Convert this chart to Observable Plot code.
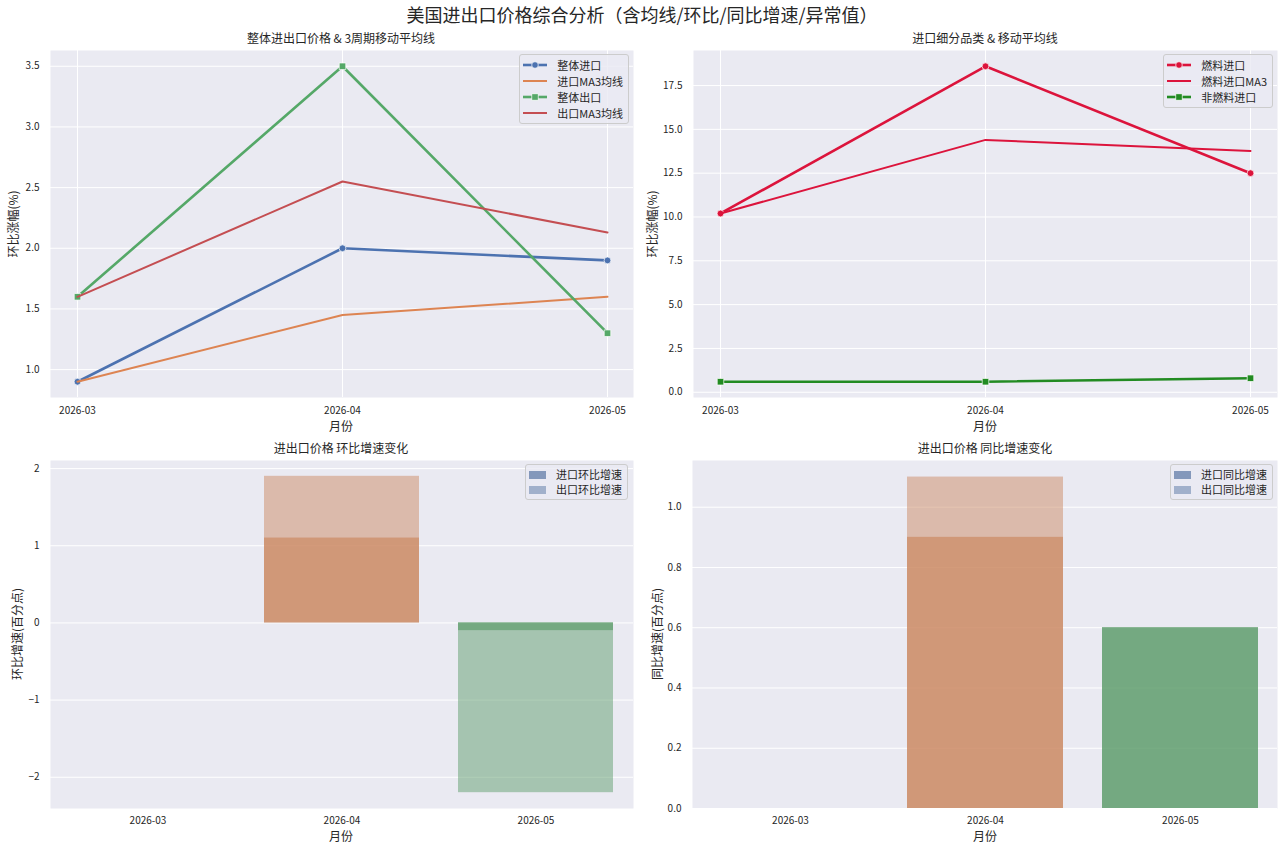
<!DOCTYPE html>
<html>
<head>
<meta charset="utf-8">
<script src="https://cdn.jsdelivr.net/npm/d3@7"></script>
<script src="https://cdn.jsdelivr.net/npm/@observablehq/plot@0.6"></script>
<style>
  body { margin: 0; background: #fff; }
  #root { position: relative; width: 1284px; height: 848px; overflow: hidden;
          font-family: "Noto Sans CJK SC", "Noto Sans", sans-serif; color: #262626; }
  #root svg.chart { position: absolute; }
  .txt { position: absolute; transform: translate(-50%, -50%); white-space: nowrap; font-size: 12px; line-height: 1; }
  .ylab { position: absolute; transform: translate(-50%, -50%) rotate(-90deg); white-space: nowrap; font-size: 12px; line-height: 1; }
  .legend { position: absolute; border: 1px solid #cccccc; border-radius: 3px; background: rgba(234,234,242,0.8);
            padding: 2px 5px 2px 3px; font-size: 11px; line-height: 1; }
  .legend .row { display: flex; align-items: center; height: 16px; }
  .legend .row svg { margin-right: 10px; flex: none; }
</style>
</head>
<body>
<div id="root"></div>
<script>
// ---- data ----
const months = ["2026-03", "2026-04", "2026-05"];

// overall import / export month-on-month change (%), with 3-period moving averages
const importTotal = [0.9, 2.0, 1.9];
const importMA3 = [0.9, 1.45, 1.6];
const exportTotal = [1.6, 3.5, 1.3];
const exportMA3 = [1.6, 2.55, 2.13];

// import sub-categories (%)
const fuelImport = [10.2, 18.6, 12.5];
const fuelImportMA3 = [10.2, 14.4, 13.77];
const nonFuelImport = [0.6, 0.6, 0.8];

// change in MoM / YoY growth (percentage points)
const importMoMDelta = [null, 1.1, -0.1];
const exportMoMDelta = [null, 1.9, -2.2];
const importYoYDelta = [null, 0.9, 0.6];
const exportYoYDelta = [null, 1.1, 0.6];

// tick values
const ticksOverall = [1.0, 1.5, 2.0, 2.5, 3.0, 3.5];
const ticksFuel = [0, 2.5, 5, 7.5, 10, 12.5, 15, 17.5];
const ticksMoM = [-2, -1, 0, 1, 2];
const ticksYoY = [0, 0.2, 0.4, 0.6, 0.8, 1.0];

// ---- styling ----
const BG = "#EAEAF2";
const C = {blue: "#4C72B0", orange: "#DD8452", green: "#55A868", red: "#C44E52",
           crimson: "#DC143C", forest: "#228B22"};
const barPalette = ["#5875A3", "#CC8963", "#5F9E6E"];
const FONT = '"Noto Sans CJK SC", "Noto Sans", sans-serif';

const series = (vals) => months.map((m, i) => ({month: m, value: vals[i]}))
  .filter(d => d.value != null);

const root = document.getElementById("root");

function place(svg, left, top) {
  svg.classList.add("chart");
  svg.style.left = left + "px";
  svg.style.top = top + "px";
  root.appendChild(svg);
}
function text(cls, str, x, y, size) {
  const el = document.createElement("div");
  el.className = cls;
  el.textContent = str;
  el.style.left = x + "px";
  el.style.top = y + "px";
  if (size) el.style.fontSize = size + "px";
  root.appendChild(el);
}
function lineHandle(color, width, marker) {
  let s = `<svg width="24" height="10"><line x1="0" x2="24" y1="5" y2="5" stroke="${color}" stroke-width="${width}"/>`;
  if (marker === "circle") s += `<circle cx="12" cy="5" r="3.3" fill="${color}" stroke="#fff" stroke-width="0.7"/>`;
  if (marker === "square") s += `<rect x="8.8" y="1.8" width="6.4" height="6.4" fill="${color}" stroke="#fff" stroke-width="0.7"/>`;
  return s + "</svg>";
}
function patchHandle(color, opacity) {
  return `<svg width="17" height="8"><rect x="0" y="0" width="17" height="8" fill="${color}" fill-opacity="${opacity}"/></svg>`;
}
function legend(entries, right, top, rowH) {
  const el = document.createElement("div");
  el.className = "legend";
  el.style.right = (1284 - right) + "px";
  el.style.top = top + "px";
  el.innerHTML = entries.map(([h, label]) =>
    `<div class="row" style="height:${rowH}px">${h}<span>${label}</span></div>`).join("");
  root.appendChild(el);
}

const baseStyle = {fontSize: "10px", fontFamily: FONT, color: "#262626", background: "transparent", overflow: "visible"};

// ---- line panels: series with optional markers ----
function linePanel({width, mL, mR, yDomain, yTicks, layers}) {
  return Plot.plot({
    width, height: 390,
    marginLeft: mL, marginRight: mR, marginTop: 6, marginBottom: 37,
    style: baseStyle,
    x: {type: "point", domain: months, padding: 0.1},
    y: {domain: yDomain},
    marks: [
      Plot.frame({fill: BG, stroke: null}),
      Plot.gridY(yTicks, {stroke: "#fff", strokeOpacity: 1, strokeWidth: 1}),
      Plot.gridX(months, {stroke: "#fff", strokeOpacity: 1, strokeWidth: 1}),
      Plot.axisY(yTicks, {tickSize: 0, tickPadding: 11, tickFormat: d3.format(".1f"), label: null}),
      Plot.axisX(months, {tickSize: 0, tickPadding: 9, label: null}),
      ...layers.flatMap(({vals, color, width: sw, marker}) => {
        const data = series(vals);
        const out = [Plot.line(data, {x: "month", y: "value", stroke: color, strokeWidth: sw})];
        if (marker === "circle")
          out.push(Plot.dot(data, {x: "month", y: "value", r: 3.4, fill: color, stroke: "#fff", strokeWidth: 0.7}));
        if (marker === "square")
          out.push(Plot.dot(data, {x: "month", y: "value", symbol: "square", r: 3.7, fill: color, stroke: "#fff", strokeWidth: 0.7}));
        return out;
      })
    ]
  });
}

// panel 1: overall prices with MA3
place(linePanel({
  width: 640, mL: 50, mR: 7, yDomain: [0.77, 3.63], yTicks: ticksOverall,
  layers: [
    {vals: importTotal, color: C.blue, width: 2.6, marker: "circle"},
    {vals: importMA3, color: C.orange, width: 2},
    {vals: exportTotal, color: C.green, width: 2.6, marker: "square"},
    {vals: exportMA3, color: C.red, width: 2}
  ]
}), 0, 44);

// panel 2: import sub-categories
place(linePanel({
  width: 644, mL: 53, mR: 7, yDomain: [-0.3, 19.5], yTicks: ticksFuel,
  layers: [
    {vals: fuelImport, color: C.crimson, width: 2.6, marker: "circle"},
    {vals: fuelImportMA3, color: C.crimson, width: 2},
    {vals: nonFuelImport, color: C.forest, width: 2.6, marker: "square"}
  ]
}), 640, 44);

// ---- panels 3 & 4: overlapping bars (import 0.7 opacity, export 0.5 on top) ----
function barPanel({width, mL, mR, yDomain, yTicks, fmt, imp, exp}) {
  return Plot.plot({
    width, height: 394,
    marginLeft: mL, marginRight: mR, marginTop: 6, marginBottom: 40,
    style: baseStyle,
    x: {type: "band", domain: months, paddingInner: 0.2, paddingOuter: 0.1},
    y: {domain: yDomain},
    color: {domain: months, range: barPalette},
    marks: [
      Plot.frame({fill: BG, stroke: null}),
      Plot.gridY(yTicks, {stroke: "#fff", strokeOpacity: 1, strokeWidth: 1}),
      Plot.axisY(yTicks, {tickSize: 0, tickPadding: 11, tickFormat: fmt, label: null}),
      Plot.axisX(months, {tickSize: 0, tickPadding: 8, label: null}),
      Plot.barY(series(imp), {x: "month", y: "value", fill: "month", fillOpacity: 0.7}),
      Plot.barY(series(exp), {x: "month", y: "value", fill: "month", fillOpacity: 0.5})
    ]
  });
}

place(barPanel({
  width: 640, mL: 50, mR: 7, yDomain: [-2.405, 2.105], yTicks: ticksMoM, fmt: d3.format("d"),
  imp: importMoMDelta, exp: exportMoMDelta
}), 0, 454);

place(barPanel({
  width: 644, mL: 52, mR: 7, yDomain: [0, 1.155], yTicks: ticksYoY, fmt: d3.format(".1f"),
  imp: importYoYDelta, exp: exportYoYDelta
}), 640, 454);

// ---- titles and axis labels ----
text("txt", "美国进出口价格综合分析（含均线/环比/同比增速/异常值）", 642, 14, 18);
text("txt", "整体进出口价格 & 3周期移动平均线", 341, 38);
text("txt", "进口细分品类 & 移动平均线", 985, 38);
text("txt", "进出口价格 环比增速变化", 341, 448);
text("txt", "进出口价格 同比增速变化", 985, 448);

text("txt", "月份", 341, 426);
text("txt", "月份", 985, 426);
text("txt", "月份", 341, 836);
text("txt", "月份", 985, 836);

text("ylab", "环比涨幅(%)", 13, 224);
text("ylab", "环比涨幅(%)", 652, 224);
text("ylab", "环比增速(百分点)", 17, 634);
text("ylab", "同比增速(百分点)", 657, 634);

// ---- legends ----
legend([
  [lineHandle(C.blue, 2.6, "circle"), "整体进口"],
  [lineHandle(C.orange, 2), "进口MA3均线"],
  [lineHandle(C.green, 2.6, "square"), "整体出口"],
  [lineHandle(C.red, 2), "出口MA3均线"]
], 629, 54, 16);

legend([
  [lineHandle(C.crimson, 2.6, "circle"), "燃料进口"],
  [lineHandle(C.crimson, 2), "燃料进口MA3"],
  [lineHandle(C.forest, 2.6, "square"), "非燃料进口"]
], 1273, 54, 16);

legend([
  [patchHandle(barPalette[0], 0.7), "进口环比增速"],
  [patchHandle(barPalette[0], 0.5), "出口环比增速"]
], 628, 464, 15);

legend([
  [patchHandle(barPalette[0], 0.7), "进口同比增速"],
  [patchHandle(barPalette[0], 0.5), "出口同比增速"]
], 1273, 464, 15);
</script>
</body>
</html>
